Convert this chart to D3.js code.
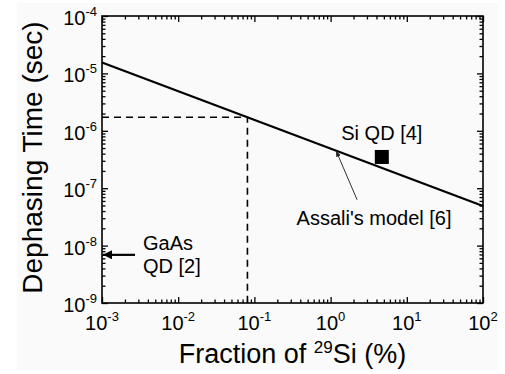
<!DOCTYPE html>
<html>
<head>
<meta charset="utf-8">
<script src="https://cdn.jsdelivr.net/npm/d3@7"></script>
<style>
	body { margin: 0; background: #fff; }
	svg { display: block; font-family: "Liberation Sans", Arial, sans-serif; }
</style>
</head>
<body>
<svg id="chart" width="505" height="374"></svg>
<script>
// data
var xDomain = [1e-3, 1e2];
var yDomain = [1e-9, 1e-4];
var xDecades = [-3, -2, -1, 0, 1, 2];
var yDecades = [-9, -8, -7, -6, -5, -4];

// Assali's model line (T ~ f^-0.5)
var modelX = [1e-3, 1e2];
var modelY = [1.55e-5, 4.9e-8];

// dashed guide
var guideX = 0.081;
var guideY = 1.72e-6;

// Si QD [4]
var siX = [4.7];
var siY = [3.5e-7];

// GaAs QD [2]
var gaasY = 6.9e-9;
// point on model line where the Assali arrow lands
var assaliX = 1.18;
var assaliY = 4.5e-7;

var svg = d3.select('#chart');
var margin = {left: 102, right: 22, top: 16, bottom: 71};
var width = 505 - margin.left - margin.right;
var height = 374 - margin.top - margin.bottom;

svg.append('rect')
	.attr('x', 17).attr('y', 3)
	.attr('width', 481).attr('height', 367)
	.attr('fill', '#fafafa');

var defs = svg.append('defs');
defs.append('marker')
	.attr('id', 'headSmall')
	.attr('viewBox', '0 0 10 10')
	.attr('refX', 10).attr('refY', 5)
	.attr('markerWidth', 6).attr('markerHeight', 6)
	.attr('markerUnits', 'userSpaceOnUse')
	.attr('orient', 'auto')
	.append('path').attr('d', 'M0,1L10,5L0,9z').attr('fill', '#222');
defs.append('marker')
	.attr('id', 'headBig')
	.attr('viewBox', '0 0 10 10')
	.attr('refX', 10).attr('refY', 5)
	.attr('markerWidth', 10).attr('markerHeight', 9)
	.attr('markerUnits', 'userSpaceOnUse')
	.attr('orient', 'auto')
	.append('path').attr('d', 'M0,0L10,5L0,10z').attr('fill', '#000');

var g = svg.append('g').attr('transform', 'translate(' + [margin.left, margin.top] + ')');

var x = d3.scaleLog().domain(xDomain).range([0, width]);
var y = d3.scaleLog().domain(yDomain).range([height, 0]);

// minor + major ticks, all pointing inward
function tickVals(domain) {
	var out = [];
	var lo = Math.round(Math.log10(domain[0])), hi = Math.round(Math.log10(domain[1]));
	for (var e = lo; e < hi; e++) {
		for (var m = 1; m < 10; m++) out.push(m * Math.pow(10, e));
	}
	out.push(Math.pow(10, hi));
	return out;
}
function isMajor(v) {
	var l = Math.log10(v);
	return Math.abs(l - Math.round(l)) < 1e-6;
}
var xt = tickVals(xDomain), yt = tickVals(yDomain);

function drawTicks(axis, sel) {
	sel.selectAll('.domain').remove();
	sel.selectAll('text').remove();
	sel.selectAll('.tick line')
		.attr('stroke-width', 1.3)
		.each(function (d) {
			var len = isMajor(d) ? 6 : 3.5;
			var ln = d3.select(this);
			if (axis === 'bottom') ln.attr('y2', -len);
			if (axis === 'top') ln.attr('y2', len);
			if (axis === 'left') ln.attr('x2', len);
			if (axis === 'right') ln.attr('x2', -len);
		});
}

g.append('g').attr('transform', 'translate(0,' + height + ')')
	.call(d3.axisBottom(x).tickValues(xt)).call(function (s) { drawTicks('bottom', s); });
g.append('g')
	.call(d3.axisTop(x).tickValues(xt)).call(function (s) { drawTicks('top', s); });
g.append('g')
	.call(d3.axisLeft(y).tickValues(yt)).call(function (s) { drawTicks('left', s); });
g.append('g').attr('transform', 'translate(' + width + ',0)')
	.call(d3.axisRight(y).tickValues(yt)).call(function (s) { drawTicks('right', s); });

g.append('rect')
	.attr('width', width).attr('height', height)
	.attr('fill', 'none').attr('stroke', '#000').attr('stroke-width', 1.6);

// tick labels 10^n
g.selectAll('.xlab').data(xDecades).enter()
	.append('text')
	.attr('class', 'xlab')
	.attr('x', function (d) { return x(Math.pow(10, d)); })
	.attr('y', height + 27)
	.attr('text-anchor', 'middle')
	.attr('font-size', 20)
	.each(function (d) {
		var t = d3.select(this);
		t.append('tspan').text('10');
		t.append('tspan').attr('dy', -9).attr('font-size', 13).text(d);
	});

g.selectAll('.ylab').data(yDecades).enter()
	.append('text')
	.attr('class', 'ylab')
	.attr('x', -5)
	.attr('y', function (d) { return y(Math.pow(10, d)) + 9; })
	.attr('text-anchor', 'end')
	.attr('font-size', 20)
	.each(function (d) {
		var t = d3.select(this);
		t.append('tspan').text('10');
		t.append('tspan').attr('dy', -9).attr('font-size', 13).text(d);
	});

// axis titles
var xt1 = svg.append('text')
	.attr('x', margin.left + width / 2)
	.attr('y', 363)
	.attr('text-anchor', 'middle')
	.attr('font-size', 27);
xt1.append('tspan').text('Fraction of ');
xt1.append('tspan').attr('dy', -10).attr('font-size', 17).text('29');
xt1.append('tspan').attr('dy', 10).text('Si (%)');

svg.append('text')
	.attr('transform', 'translate(42,' + (margin.top + height / 2 - 2) + ') rotate(-90)')
	.attr('text-anchor', 'middle')
	.attr('font-size', 28)
	.text('Dephasing Time (sec)');

// dashed guides
var line = d3.line().x(function (d) { return x(d[0]); }).y(function (d) { return y(d[1]); });
g.append('path')
	.attr('d', line([[xDomain[0], guideY], [guideX, guideY], [guideX, yDomain[0]]]))
	.attr('fill', 'none').attr('stroke', '#000')
	.attr('stroke-width', 1.6).attr('stroke-dasharray', '7,5');

// model line
g.append('path')
	.attr('d', line(modelX.map(function (v, i) { return [v, modelY[i]]; })))
	.attr('fill', 'none').attr('stroke', '#000').attr('stroke-width', 2.2);

// Si QD marker
var sq = 14;
g.selectAll('.si').data(siX).enter()
	.append('rect')
	.attr('x', function (d) { return x(d) - sq / 2; })
	.attr('y', function (d, i) { return y(siY[i]) - sq / 2; })
	.attr('width', sq).attr('height', sq)
	.attr('fill', '#000');
g.append('text')
	.attr('x', x(siX[0]))
	.attr('y', y(siY[0]) - 17)
	.attr('text-anchor', 'middle')
	.attr('font-size', 20)
	.text('Si QD [4]');

// Assali annotation
var ax = x(assaliX), ay = y(assaliY);
g.append('line')
	.attr('x1', ax + 21).attr('y1', ay + 49)
	.attr('x2', ax).attr('y2', ay)
	.attr('stroke', '#333').attr('stroke-width', 1)
	.attr('marker-end', 'url(#headSmall)');
g.append('text')
	.attr('x', ax + 38)
	.attr('y', ay + 74)
	.attr('text-anchor', 'middle')
	.attr('font-size', 20)
	.text("Assali's model [6]");

// GaAs annotation
var gy = y(gaasY);
g.append('line')
	.attr('x1', 33).attr('y1', gy)
	.attr('x2', 1).attr('y2', gy)
	.attr('stroke', '#000').attr('stroke-width', 2.2)
	.attr('marker-end', 'url(#headBig)');
g.append('text')
	.attr('x', 41).attr('y', gy - 5)
	.attr('font-size', 20).text('GaAs');
g.append('text')
	.attr('x', 41).attr('y', gy + 18)
	.attr('font-size', 20).text('QD [2]');
</script>
</body>
</html>
